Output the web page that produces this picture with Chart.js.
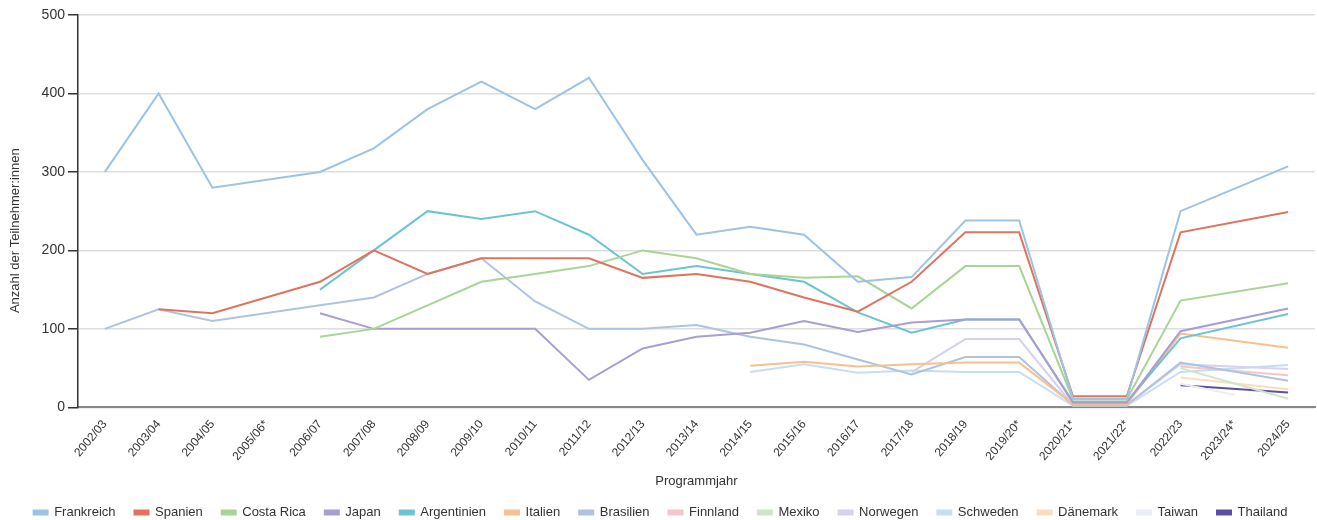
<!DOCTYPE html>
<html>
<head>
<meta charset="utf-8">
<script src="https://cdn.jsdelivr.net/npm/chart.js@4"></script>
<style>
  html, body { margin: 0; padding: 0; background: #fff; }
  #wrap { width: 1317px; height: 520px; }
</style>
</head>
<body>
<div id="wrap"><canvas id="teilnehmerChart"></canvas></div>
<script>
const years = ['2002/03', '2003/04', '2004/05', '2005/06*', '2006/07', '2007/08', '2008/09', '2009/10',
  '2010/11', '2011/12', '2012/13', '2013/14', '2014/15', '2015/16', '2016/17', '2017/18',
  '2018/19', '2019/20*', '2020/21*', '2021/22*', '2022/23', '2023/24*', '2024/25'];

const frankreich  = [300, 400, 280, null, 300, 330, 380, 415, 380, 420, 315, 220, 230, 220, 160, 166, 238, 238, 11, 11, 250, null, 307];
const spanien     = [null, 125, 120, null, 160, 200, 170, 190, 190, 190, 165, 170, 160, 140, 122, 160, 223, 223, 14, 14, 223, null, 249];
const costaRica   = [null, null, null, null, 90, 100, 130, 160, 170, 180, 200, 190, 170, 165, 167, 126, 180, 180, 10, 10, 136, null, 158];
const japan       = [null, null, null, null, 120, 100, 100, 100, 100, 35, 75, 90, 95, 110, 96, 108, 112, 112, 6, 6, 97, null, 126];
const argentinien = [null, null, null, null, 150, 200, 250, 240, 250, 220, 170, 180, 170, 160, 121, 95, 112, 112, 7, 7, 88, null, 119];
const italien     = [null, null, null, null, null, null, null, null, null, null, null, null, 53, 58, 52, 55, 57, 57, 4, 4, 94, null, 76];
const brasilien   = [100, 125, 110, null, 130, 140, 170, 190, 135, 100, 100, 105, 90, 80, 61, 42, 64, 64, 3, 3, 57, null, 34];
const finnland    = [null, null, null, null, null, null, null, null, null, null, null, null, null, null, null, null, null, null, null, null, 52, null, 41];
const mexiko      = [null, null, null, null, null, null, null, null, null, null, null, null, null, null, null, null, null, null, null, null, 50, null, 11];
const norwegen    = [null, null, null, null, null, null, null, null, null, null, null, null, null, null, null, 45, 87, 87, 3, 3, 55, null, 49];
const schweden    = [null, null, null, null, null, null, null, null, null, null, null, null, 45, 55, 44, 47, 45, 45, 2, 2, 45, null, 54];
const daenemark   = [null, null, null, null, null, null, null, null, null, null, null, null, null, null, null, null, null, null, null, null, 38, null, 23];
const taiwan      = [null, null, null, null, null, null, null, null, null, null, null, null, null, null, null, null, null, null, null, null, 30, 16, null];
const thailand    = [null, null, null, null, null, null, null, null, null, null, null, null, null, null, null, null, null, null, null, null, 28, null, 19];

const font = { family: '"Liberation Sans", Arial, sans-serif', size: 13 };

function series(label, data, color) {
  return {
    label, data,
    borderColor: color, backgroundColor: color,
    borderWidth: 2, pointRadius: 0, pointHoverRadius: 0,
    tension: 0, spanGaps: true, fill: false,
  };
}

new Chart(document.getElementById('teilnehmerChart'), {
  type: 'line',
  data: {
    labels: years,
    datasets: [
      series('Frankreich', frankreich, '#9cc3e4'),
      series('Spanien', spanien, '#e0735f'),
      series('Costa Rica', costaRica, '#a8d495'),
      series('Japan', japan, '#aa9dd2'),
      series('Argentinien', argentinien, '#6ec3d2'),
      series('Italien', italien, '#f8c08e'),
      series('Brasilien', brasilien, '#aec3e0'),
      series('Finnland', finnland, '#f3c6c9'),
      series('Mexiko', mexiko, '#cde6c7'),
      series('Norwegen', norwegen, '#d6d1ec'),
      series('Schweden', schweden, '#c9ddf0'),
      series('Dänemark', daenemark, '#fbdcc2'),
      series('Taiwan', taiwan, '#e9eff5'),
      series('Thailand', thailand, '#5e4ea3'),
    ],
  },
  options: {
    responsive: true, maintainAspectRatio: false, animation: false,
    layout: { padding: { top: 15, right: 2, left: 6, bottom: -9 } },
    plugins: {
      legend: {
        position: 'bottom',
        labels: { boxWidth: 14, boxHeight: 4, padding: 19, color: '#333', font },
      },
      tooltip: { enabled: false },
    },
    scales: {
      x: {
        offset: true,
        grid: { display: false },
        border: { display: true, color: '#888', width: 2 },
        ticks: { color: '#333', font: { ...font, size: 12 }, minRotation: 50, maxRotation: 50, autoSkip: false, padding: 2 },
        title: { display: true, text: 'Programmjahr', color: '#333', font, padding: { top: 8, bottom: -2 } },
      },
      y: {
        min: 0, max: 500,
        border: { display: true, color: '#333', width: 1.5 },
        grid: { color: '#dddddd', lineWidth: 1.5, tickColor: '#333', tickLength: 10 },
        ticks: { stepSize: 100, color: '#333', font: { ...font, size: 14 }, padding: 3 },
        title: {
          display: true,
          // trailing em spaces push the title a little below the axis middle, as in the source
          text: 'Anzahl der Teilnehmer:innen\u2003\u2003\u2003',
          color: '#333', font: { ...font, size: 13 }, padding: { top: 2, bottom: 15 },
        },
      },
    },
  },
});
</script>
</body>
</html>
